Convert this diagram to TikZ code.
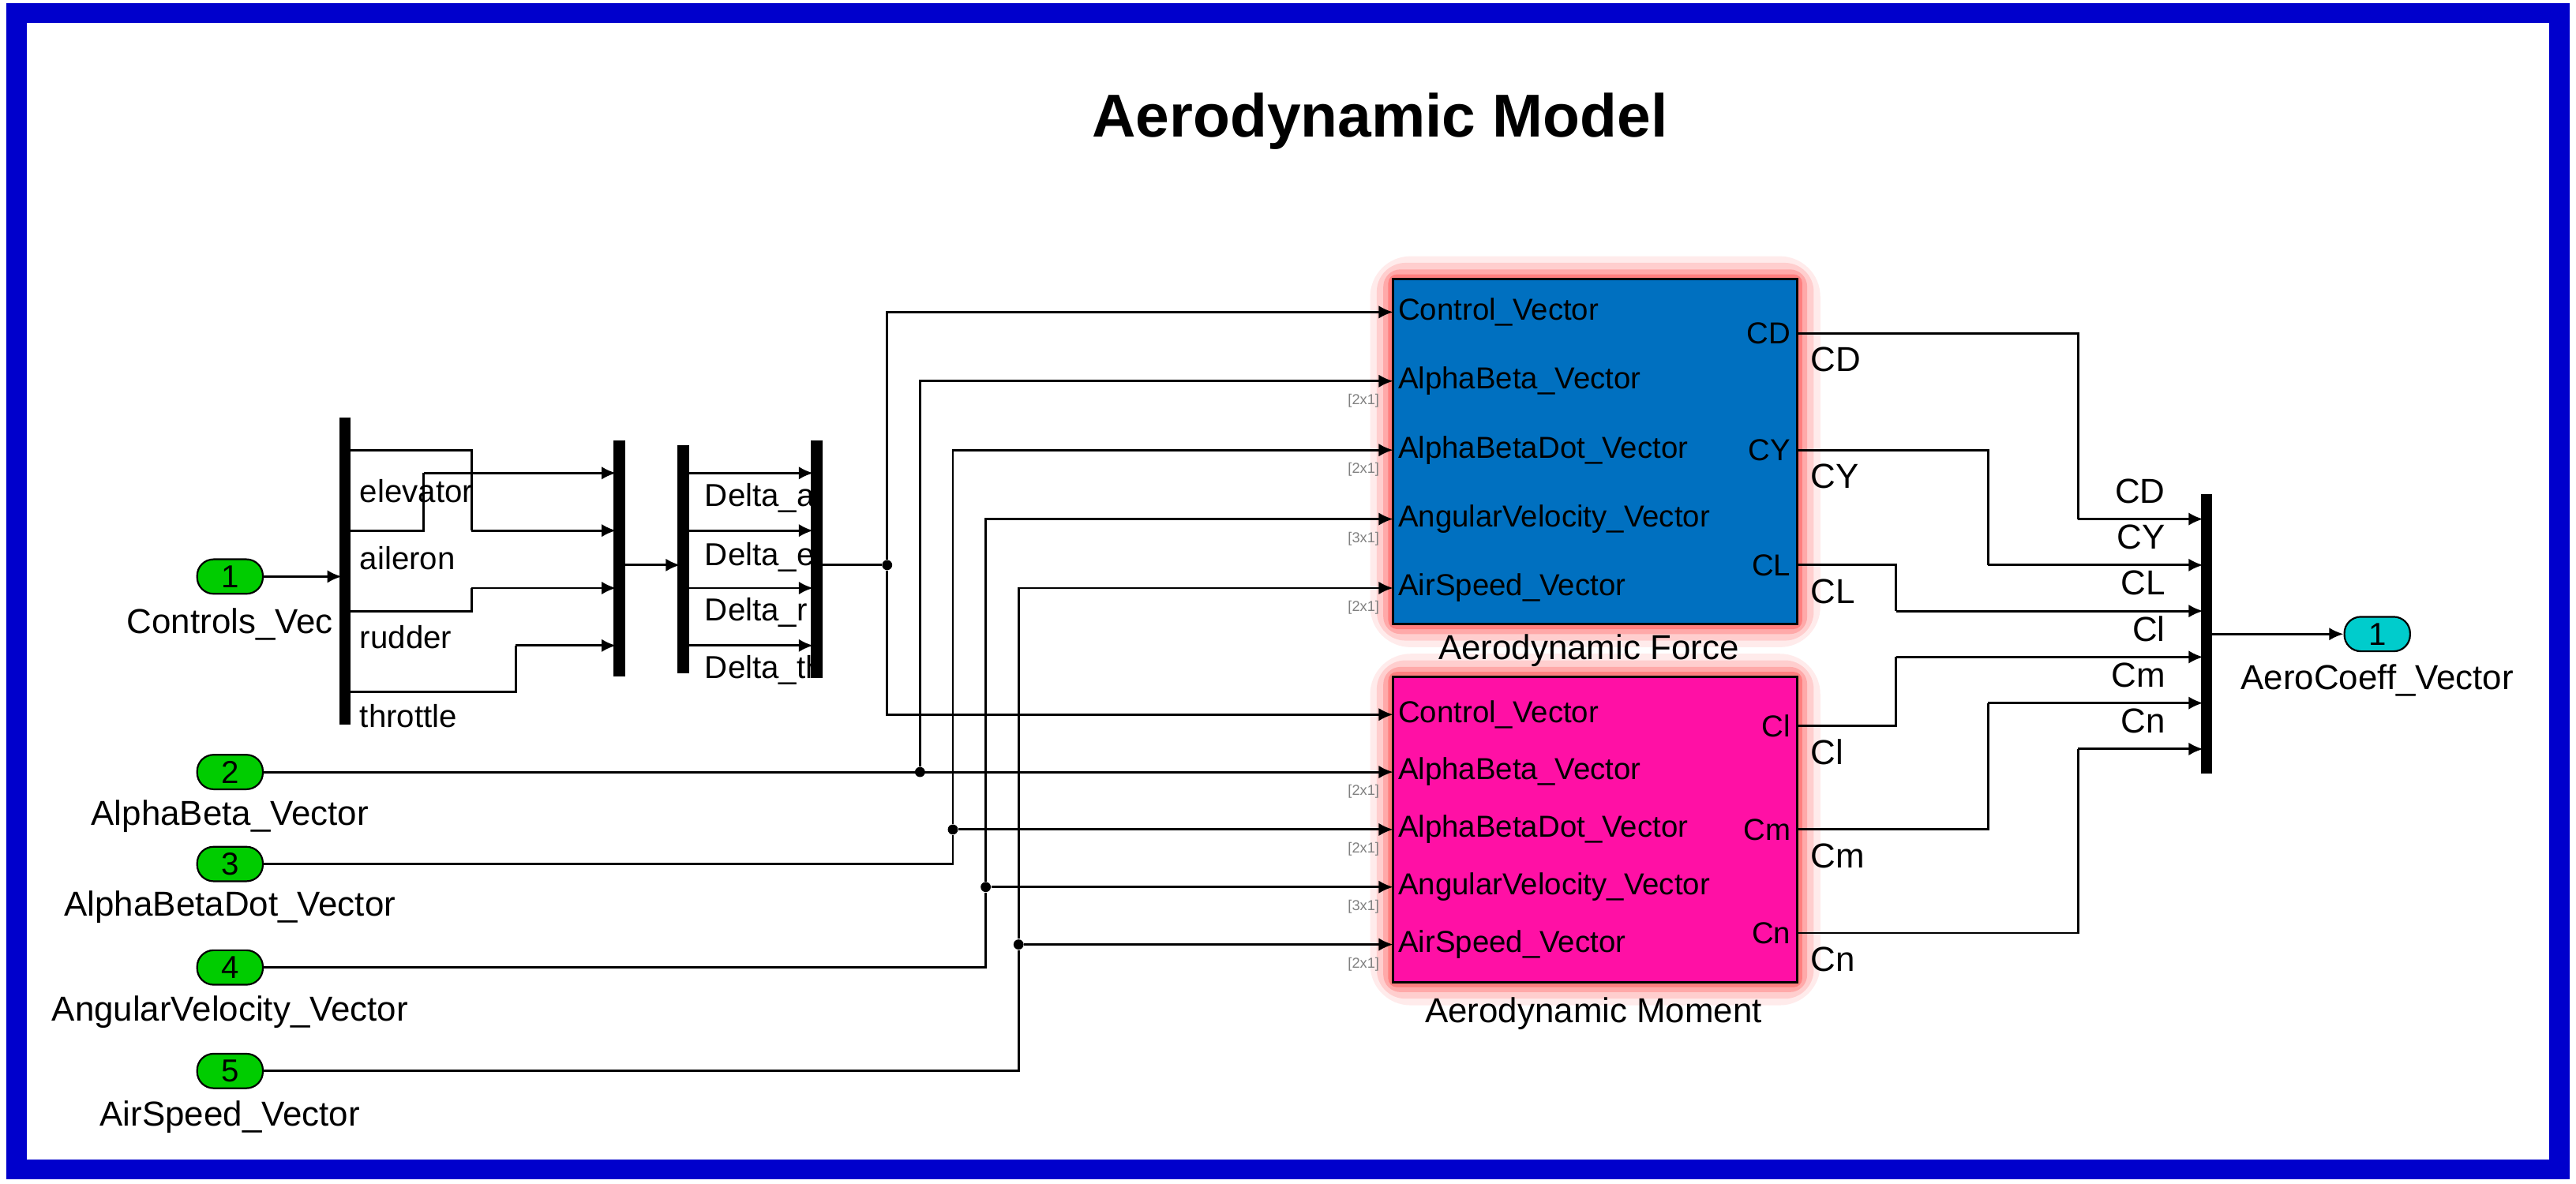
\documentclass[tikz,border=0pt]{standalone}
\usepackage{fontspec}
\setmainfont{Liberation Sans}
\usetikzlibrary{positioning}
\usetikzlibrary{calc}
\usetikzlibrary{arrows.meta}

\definecolor{frameblue}{RGB}{0,0,204}
\definecolor{forceblue}{RGB}{0,112,192}
\definecolor{momentpink}{RGB}{255,16,165}
\definecolor{inportgreen}{RGB}{0,204,0}
\definecolor{outportcyan}{RGB}{0,204,204}

\tikzset{
  sig/.style={line width=0.8pt,-{Latex[length=5pt,width=4.5pt]}},
  wire/.style={line width=0.8pt},
  bus/.style={line width=4pt},
  inport/.style={draw,line width=0.6pt,rounded corners=0.2cm,minimum width=0.8cm,minimum height=0.42cm,inner sep=0pt,font=\fontsize{11}{11}\selectfont},
  portlbl/.style={font=\fontsize{10.5}{12}\selectfont,inner sep=1pt},
  extlbl/.style={font=\fontsize{12}{14}\selectfont,inner sep=1pt},
  dimlbl/.style={font=\fontsize{5}{6}\selectfont,text=gray,inner sep=0pt},
  dot/.style={circle,fill,inner sep=0pt,minimum size=3.5pt}
}

\begin{document}
\begin{tikzpicture}[x=0.02cm,y=-0.02cm]
            \useasboundingbox (0,0) rectangle (1568,720.8);
            \draw[frameblue,line width=7pt] (10,8) rectangle (1558,712);
            \node[font=\fontsize{21}{24}\selectfont\bfseries] (title) at (840,74) {Aerodynamic Model};

            % glow around the two blocks
            \foreach \g/\o in {14/0.08,10/0.12,6/0.18,3/0.25}{
              \fill[red,opacity=\o,rounded corners=\g] (848-\g,170-\g) rectangle (1094+\g,380+\g);
              \fill[red,opacity=\o,rounded corners=\g] (848-\g,412-\g) rectangle (1094+\g,598+\g);
            }
            \draw[fill=forceblue,line width=0.8pt] (848,170) rectangle (1094,380);
            \draw[fill=momentpink,line width=0.8pt] (848,412) rectangle (1094,598);
            \node[extlbl] (forcename) at (967,396) {Aerodynamic Force};
            \node[extlbl] (momentname) at (970,617) {Aerodynamic Moment};

            % block ports
            \foreach \n/\t/\y in {1/Control\_Vector/190,2/AlphaBeta\_Vector/232,3/AlphaBetaDot\_Vector/274,4/AngularVelocity\_Vector/316,5/AirSpeed\_Vector/358}{
              \coordinate (f\n) at (848,\y);
              \node[portlbl,anchor=west] (fl\n) at (849,\y) {\t};
            }
            \foreach \n/\t/\y in {1/Control\_Vector/435,2/AlphaBeta\_Vector/470,3/AlphaBetaDot\_Vector/505,4/AngularVelocity\_Vector/540,5/AirSpeed\_Vector/575}{
              \coordinate (m\n) at (848,\y);
              \node[portlbl,anchor=west] (ml\n) at (849,\y) {\t};
            }
            \foreach \n/\d/\y in {2/2x1/244,3/2x1/286,4/3x1/328,5/2x1/370,6/2x1/482,7/2x1/517,8/3x1/552,9/2x1/587}{
              \node[dimlbl] (dim\n) at (830,\y) {[\d]};
            }
            \foreach \n/\y in {CD/203,CY/274,CL/344}{
              \coordinate (o\n) at (1094,\y);
              \node[portlbl,anchor=east] (ol\n) at (1092,\y) {\n};
              \node[extlbl,anchor=west] (ox\n) at (1100,\y+16) {\n};
            }
            \foreach \n/\y in {Cl/442,Cm/505,Cn/568}{
              \coordinate (o\n) at (1094,\y);
              \node[portlbl,anchor=east] (ol\n) at (1092,\y) {\n};
              \node[extlbl,anchor=west] (ox\n) at (1100,\y+16) {\n};
            }

            % inports
            \node[inport,fill=inportgreen] (in1) at (140,351) {1};
            \node[inport,fill=inportgreen] (in2) at (140,470) {2};
            \node[inport,fill=inportgreen] (in3) at (140,526) {3};
            \node[inport,fill=inportgreen] (in4) at (140,589) {4};
            \node[inport,fill=inportgreen] (in5) at (140,652) {5};
            \node[extlbl] (in1name) at (140,380) {Controls\_Vec};
            \node[extlbl] (in2name) at (140,497) {AlphaBeta\_Vector};
            \node[extlbl] (in3name) at (140,552) {AlphaBetaDot\_Vector};
            \node[extlbl] (in4name) at (140,616) {AngularVelocity\_Vector};
            \node[extlbl] (in5name) at (140,680) {AirSpeed\_Vector};

            % demux, mux, demux, mux
            \draw[bus] (210,254) coordinate (dmxa) -- (210,441) coordinate (dmxb);
            \draw[bus] (377,268) -- (377,412);
            \draw[bus] (416,271) -- (416,410);
            \draw[sig] (in1) -- (208,351);
            \foreach \n/\t/\y in {1/elevator/299,2/aileron/340,3/rudder/388,4/throttle/436}{
              \node[portlbl,anchor=west,font=\fontsize{11}{12}\selectfont] (sel\n) at (217,\y) {\t};
            }
            \foreach \n/\t/\y in {1/a/303,2/e/339,3/r/373,4/th/408}{
              \node[portlbl,anchor=west,font=\fontsize{11}{12}\selectfont] (dl\n) at (427,\y) {Delta\_\t};
            }
            \draw[wire] (212,274) -| (287,323);
            \draw[sig] (287,323) -- (375,323);
            \draw[wire] (212,323) -| (258,288);
            \draw[sig] (258,288) -- (375,288);
            \draw[wire] (212,372) -| (287,358);
            \draw[sig] (287,358) -- (375,358);
            \draw[wire] (212,421) -| (314,393);
            \draw[sig] (314,393) -- (375,393);
            \draw[sig] (379,344) -- (414,344);
            \foreach \y in {288,323,358,393}{
              \draw[sig] (418,\y) -- (495,\y);
            }
            \fill[white] (499,268) rectangle (520,413);
            \draw[bus] (497,268) -- (497,413);

            % routing to the blocks
            \node[dot] (j1) at (540,344) {};
            \draw[wire] (499,344) -- (j1);
            \draw[sig] (j1) |- (f1);
            \draw[sig] (j1) |- (m1);
            \node[dot] (j2) at (560,470) {};
            \draw[sig] (in2) -- (m2);
            \draw[sig] (j2) |- (f2);
            \node[dot] (j3) at (580,505) {};
            \draw[wire] (in3) -| (j3);
            \draw[sig] (j3) -- (m3);
            \draw[sig] (j3) |- (f3);
            \node[dot] (j4) at (600,540) {};
            \draw[wire] (in4) -| (j4);
            \draw[sig] (j4) -- (m4);
            \draw[sig] (j4) |- (f4);
            \node[dot] (j5) at (620,575) {};
            \draw[wire] (in5) -| (j5);
            \draw[sig] (j5) -- (m5);
            \draw[sig] (j5) |- (f5);

            % output mux
            \draw[bus] (1343,301) -- (1343,471);
            \foreach \n/\y in {CD/316,CY/344,CL/372,Cl/400,Cm/428,Cn/456}{
              \coordinate (b\n) at (1341,\y);
              \node[extlbl,anchor=east] (bl\n) at (1320,\y-17) {\n};
            }
            \draw[wire] (oCD) -| (1265,316);
            \draw[sig] (1265,316) -- (bCD);
            \draw[wire] (oCY) -| (1210,344);
            \draw[sig] (1210,344) -- (bCY);
            \draw[wire] (oCL) -| (1154,372);
            \draw[sig] (1154,372) -- (bCL);
            \draw[wire] (oCl) -| (1154,400);
            \draw[sig] (1154,400) -- (bCl);
            \draw[wire] (oCm) -| (1210,428);
            \draw[sig] (1210,428) -- (bCm);
            \draw[wire] (oCn) -| (1265,456);
            \draw[sig] (1265,456) -- (bCn);

            \node[inport,fill=outportcyan] (out1) at (1447,386) {1};
            \node[extlbl] (out1name) at (1447,414) {AeroCoeff\_Vector};
            \draw[sig] (1345,386) -- (out1);
        \end{tikzpicture}
\end{document}
